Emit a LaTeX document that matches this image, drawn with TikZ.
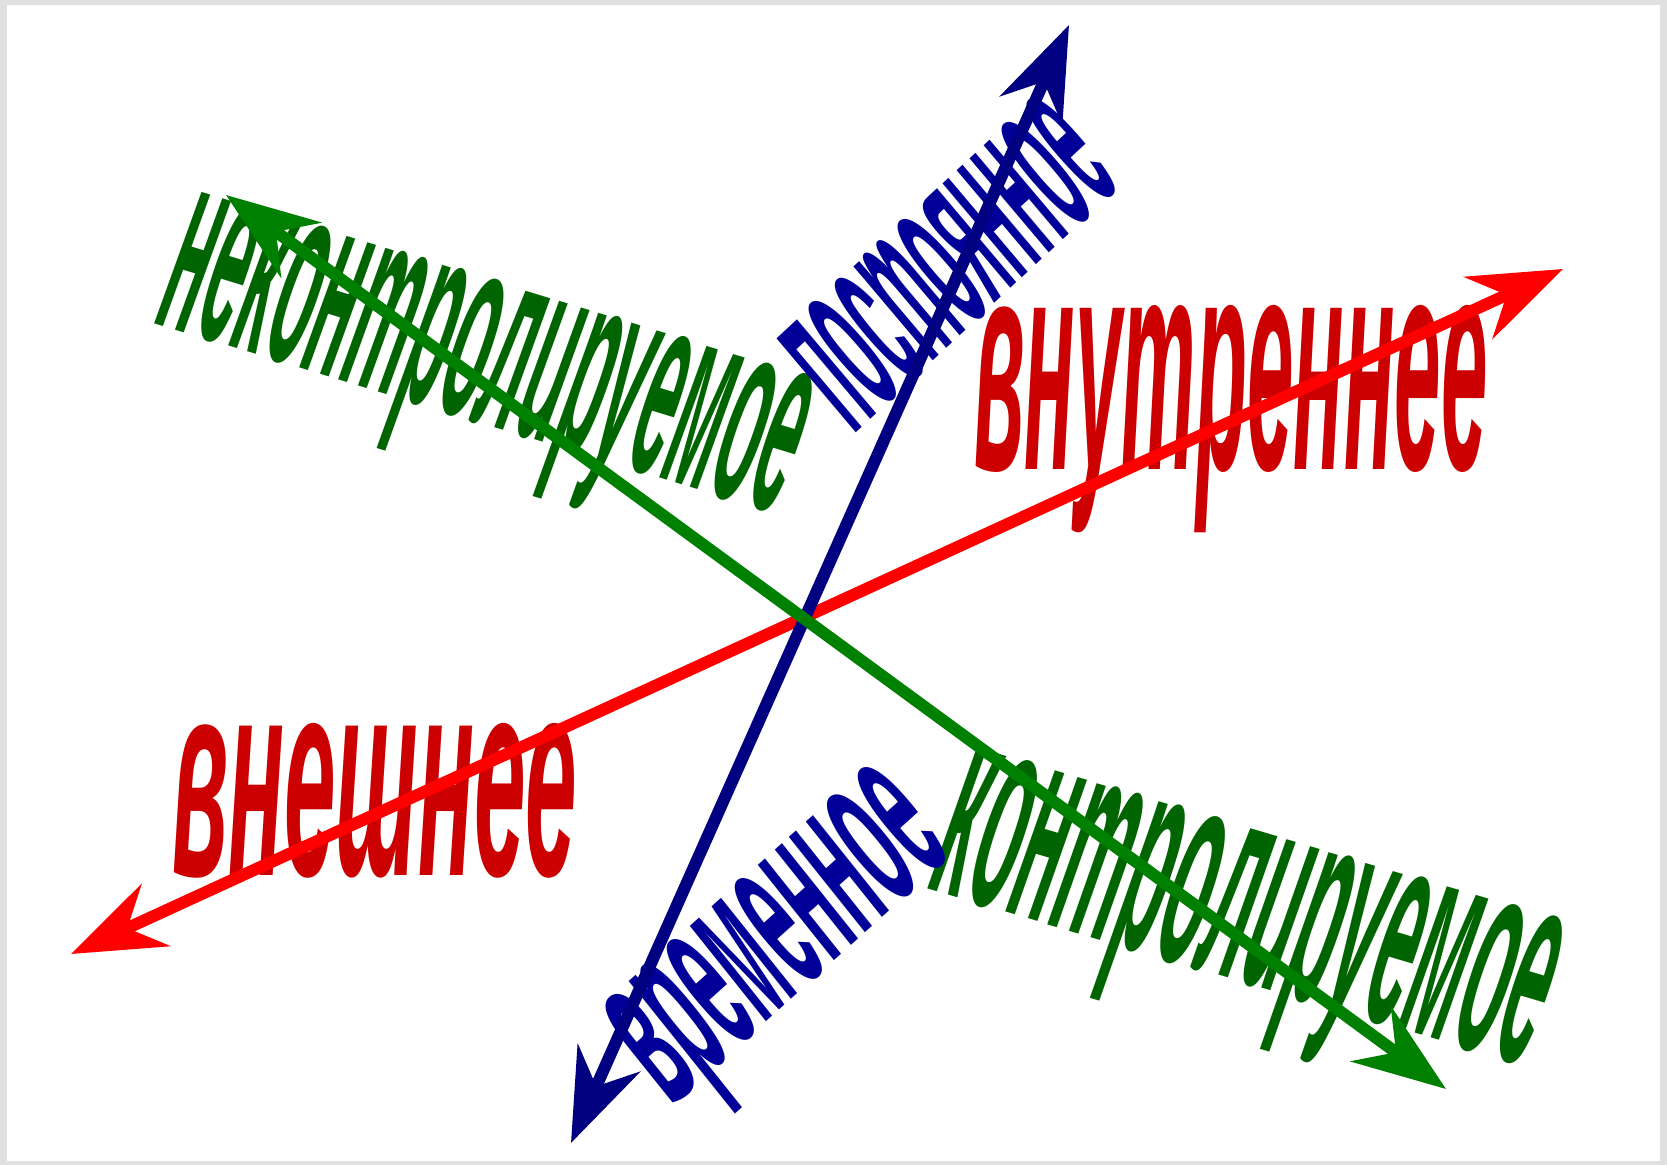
\documentclass[tikz,border=0pt]{standalone}
\usepackage{fontspec}
\setmainfont{Liberation Sans}
\usetikzlibrary{arrows.meta}
\definecolor{axred}{RGB}{255,0,0}
\definecolor{txred}{RGB}{204,0,0}
\definecolor{axgreen}{RGB}{0,128,0}
\definecolor{txgreen}{RGB}{0,100,0}
\definecolor{axblue}{RGB}{0,0,128}
\definecolor{txblue}{RGB}{0,0,153}
\definecolor{frame}{RGB}{224,224,224}

\begin{document}
\begin{tikzpicture}[x=0.5pt,y=-0.5pt,
  axis/.style={line width=6pt,<->,>={Stealth[length=46.5pt,width=34pt,inset=15.5pt]}},
  axlabel/.style={inner sep=0pt,anchor=base,font=\bfseries\itshape}]
\useasboundingbox (0,0) rectangle (1667,1165);
% frame:
\path[fill=frame] (0,0) rectangle (1667,1165);
\path[fill=white] (7,5) rectangle (1660,1161);
% labels:
\node[axlabel,text=txred] (inner) at (1231,470) {\resizebox{256.5pt}{82pt}{внутреннее}};
\node[axlabel,text=txred] (outer) at (375,876) {\resizebox{202.5pt}{76pt}{внешнее}};
\node[axlabel,text=txgreen,rotate=-17] (uncontr) at (467,419) {\resizebox{327.5pt}{71pt}{неконтролируемое}};
\node[axlabel,text=txgreen,rotate=-16.5] (contr) at (1228,978) {\resizebox{314pt}{76pt}{контролируемое}};
\node[axlabel,text=txblue,rotate=43] (const) at (990,308) {\resizebox{184pt}{62.5pt}{постоянное}};
\node[axlabel,text=txblue,rotate=42] (temp) at (815,978) {\resizebox{190.5pt}{62pt}{временное}};
% axes:
\coordinate (red-w) at (71,954);
\coordinate (red-e) at (1563,269);
\coordinate (blue-s) at (571,1143);
\coordinate (blue-n) at (1069,25);
\coordinate (green-nw) at (226,195);
\coordinate (green-se) at (1446,1089);
\draw[axis,axred] (red-w) -- (red-e);
\draw[axis,axblue] (blue-s) -- (blue-n);
\draw[axis,axgreen] (green-nw) -- (green-se);
\end{tikzpicture}
\end{document}
